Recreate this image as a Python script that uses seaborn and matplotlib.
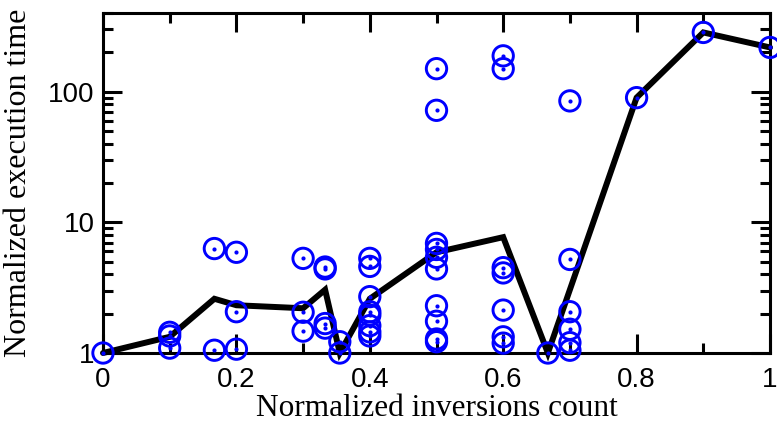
import matplotlib
matplotlib.use('Agg')
import matplotlib.pyplot as plt
from matplotlib import font_manager, ticker
import seaborn as sns

# scattered runs: normalized inversions count vs normalized execution time
inv_count = [0.0,
             0.1, 0.1, 0.1,
             0.167, 0.167,
             0.2, 0.2, 0.2,
             0.3, 0.3, 0.3,
             0.333, 0.333, 0.333, 0.333,
             0.355, 0.355,
             0.4, 0.4, 0.4, 0.4, 0.4, 0.4, 0.4, 0.4,
             0.5, 0.5, 0.5, 0.5, 0.5, 0.5, 0.5, 0.5, 0.5, 0.5,
             0.6, 0.6, 0.6, 0.6, 0.6, 0.6, 0.6,
             0.667,
             0.7, 0.7, 0.7, 0.7, 0.7, 0.7,
             0.8, 0.9, 1.0]
exec_time = [1.0,
             1.44, 1.35, 1.09,
             6.3, 1.05,
             5.9, 2.07, 1.07,
             5.3, 2.05, 1.47,
             4.55, 4.4, 1.68, 1.55,
             1.22, 1.0,
             5.3, 4.6, 2.7, 2.07, 1.95, 1.62, 1.45, 1.35,
             150, 72, 6.9, 6.2, 5.4, 4.4, 2.3, 1.75, 1.28, 1.22,
             188, 150, 4.5, 4.1, 2.13, 1.33, 1.19,
             1.0,
             85, 5.2, 2.07, 1.52, 1.2, 1.05,
             90, 284, 218]

# thick black curve
curve_x = [0.0, 0.1, 0.167, 0.2, 0.3, 0.333, 0.355, 0.4, 0.5, 0.6, 0.667, 0.8, 0.9, 1.0]
curve_y = [1.0, 1.33, 2.6, 2.32, 2.2, 3.05, 1.0, 2.6, 5.9, 7.7, 1.0, 90, 284, 218]

x_ticks = [0, 0.2, 0.4, 0.6, 0.8, 1]
x_ticklabels = ['0', '0.2', '0.4', '0.6', '0.8', '1']
y_ticks = [1, 10, 100]
y_ticklabels = ['1', '10', '100']


def has_font(name):
    try:
        font_manager.findfont(name, fallback_to_default=False)
        return True
    except Exception:
        return False


sns.set_style('ticks')
if has_font('Liberation Sans Narrow'):
    tick_font, tick_size = 'Liberation Sans Narrow', 22
else:
    tick_font, tick_size = 'Liberation Sans', 20
label_font = 'Liberation Serif'

fig = plt.figure(figsize=(7.77, 4.24), dpi=100)
ax = fig.add_axes([103 / 777, 71 / 424, 667 / 777, 340 / 424])

sns.lineplot(x=curve_x, y=curve_y, color='black', linewidth=4.3, sort=False,
             estimator=None, ax=ax, clip_on=False, solid_joinstyle='miter', zorder=2)
sns.scatterplot(x=inv_count, y=exec_time, marker='o', s=215, facecolors='none',
                edgecolor='blue', linewidth=2.1, ax=ax, clip_on=False, zorder=3)
sns.scatterplot(x=inv_count, y=exec_time, marker='o', s=9, color='blue',
                linewidth=0, ax=ax, clip_on=False, zorder=4)

ax.set_yscale('log')
ax.set_xlim(0, 1)
ax.set_ylim(1, 400)
ax.set_xticks(x_ticks)
ax.set_xticklabels(x_ticklabels, fontfamily=tick_font, fontsize=tick_size)
ax.xaxis.set_minor_locator(ticker.MultipleLocator(0.1))
ax.set_yticks(y_ticks)
ax.set_yticklabels(y_ticklabels, fontfamily=tick_font, fontsize=tick_size)
ax.yaxis.set_minor_locator(ticker.LogLocator(base=10, subs=range(2, 10)))
ax.yaxis.set_minor_formatter(ticker.NullFormatter())

ax.tick_params(which='both', direction='in', top=True, right=True, width=2.2, colors='black')
ax.tick_params(which='major', length=14)
ax.tick_params(which='minor', length=7)
ax.tick_params(axis='x', which='major', pad=10)
ax.tick_params(axis='y', which='major', pad=6)
for sp in ax.spines.values():
    sp.set_linewidth(2.2)
    sp.set_color('black')

ax.set_xlabel('Normalized inversions count', fontfamily=label_font, fontsize=22.5,
              labelpad=1, color='black')
ax.set_ylabel('Normalized execution time', fontfamily=label_font, fontsize=23, color='black')
ax.yaxis.set_label_coords(-0.105, 0.5)

fig.savefig('out.png', dpi=100)
